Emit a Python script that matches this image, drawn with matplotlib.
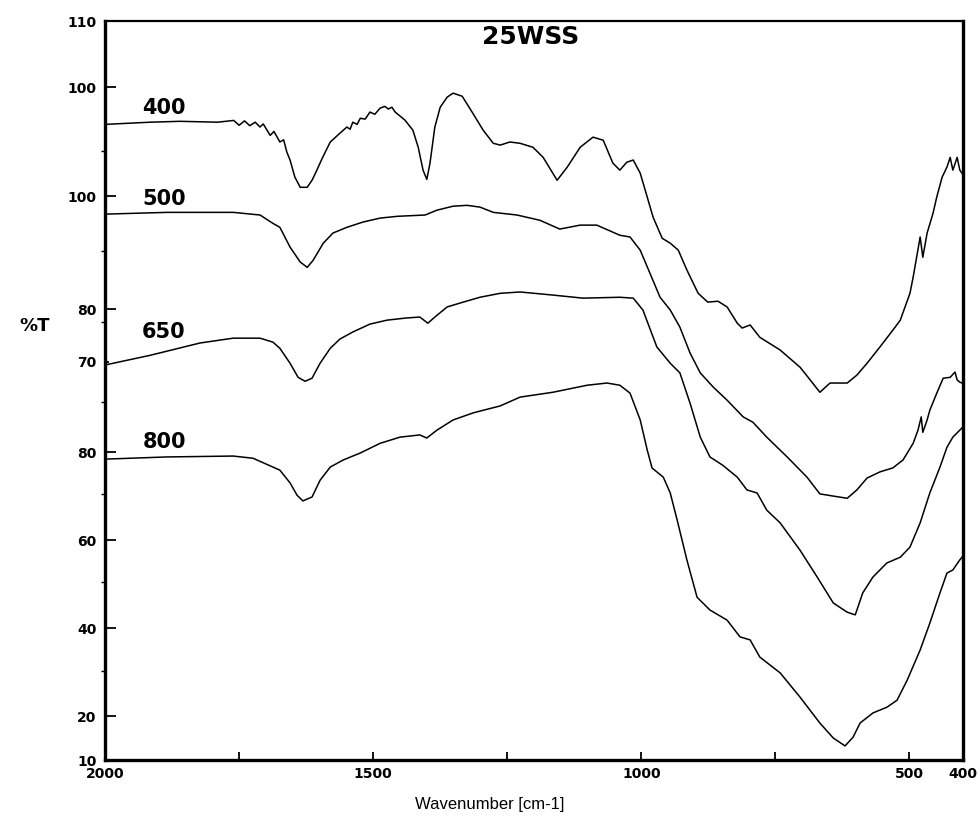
import numpy as np
import matplotlib
matplotlib.use("Agg")
import matplotlib.pyplot as plt

# FTIR spectra of 25WSS calcined at different temperatures (stacked, offset)
wn_400 = [2000, 1916, 1860, 1790, 1760, 1750, 1740, 1730, 1720, 1711, 1705, 1692, 1685,
          1674, 1667, 1661, 1655, 1646, 1636, 1623, 1614, 1605, 1595, 1580, 1562, 1549,
          1543, 1538, 1530, 1524, 1515, 1506, 1497, 1487, 1478, 1472, 1465, 1459, 1441,
          1426, 1416, 1407, 1400, 1394, 1385, 1375, 1362, 1351, 1334, 1314, 1295, 1276,
          1263, 1245, 1226, 1202, 1183, 1157, 1138, 1114, 1090, 1071, 1053, 1040, 1027,
          1015, 1002, 989, 978, 961, 946, 931, 915, 894, 876, 857, 840, 821, 812, 797, 779,
          741, 704, 685, 667, 648, 616, 598, 579, 555, 531, 517, 499, 493, 480, 475, 467,
          456, 449, 439, 430, 424, 419, 411, 406, 402]
t_400 = [154.5, 155.0, 155.2, 155.0, 155.4, 154.3, 155.3, 154.2, 155.0, 153.9, 154.6, 152.0,
         152.9, 150.5, 151.0, 148.2, 146.4, 142.5, 140.2, 140.2, 141.8, 144.1, 146.8, 150.5,
         152.5, 153.9, 153.4, 155.0, 154.5, 155.9, 155.7, 157.3, 156.8, 158.2, 158.6, 158.0,
         158.4, 157.3, 155.5, 153.2, 149.3, 144.1, 142.0, 145.7, 153.9, 158.4, 160.7, 161.6,
         160.9, 157.0, 153.2, 150.2, 149.8, 150.5, 150.2, 149.3, 147.0, 141.8, 144.8, 149.3,
         151.6, 150.9, 145.7, 144.1, 145.9, 146.4, 143.4, 138.0, 133.4, 128.6, 127.5, 125.9,
         121.4, 116.1, 114.1, 114.3, 113.0, 109.3, 108.2, 108.9, 106.1, 103.2, 99.3, 96.4,
         93.6, 95.7, 95.7, 97.5, 100.2, 103.9, 107.7, 110.0, 116.1, 119.8, 128.9, 124.3,
         129.8, 134.3, 138.0, 142.5, 144.8, 147.0, 144.1, 147.0, 144.1, 143.4]

wn_500 = [2000, 1884, 1761, 1711, 1687, 1674, 1655, 1636, 1623, 1612, 1593, 1575, 1549,
          1519, 1487, 1455, 1403, 1381, 1351, 1325, 1301, 1276, 1232, 1189, 1152, 1114,
          1083, 1040, 1021, 1002, 984, 965, 946, 928, 909, 890, 866, 840, 810, 792, 766,
          728, 691, 667, 642, 616, 598, 579, 555, 531, 512, 493, 484, 478, 475, 467, 462,
          449, 437, 424, 415, 411, 406, 402]
t_500 = [134.1, 134.5, 134.5, 133.9, 132.0, 131.1, 126.6, 123.2, 122.0, 123.6, 127.5, 129.8,
         131.1, 132.3, 133.2, 133.6, 133.9, 135.0, 135.9, 136.1, 135.7, 134.5, 133.9, 132.7,
         130.7, 131.6, 131.6, 129.3, 128.9, 125.9, 120.7, 115.2, 112.3, 108.4, 102.5, 98.0,
         94.8, 91.8, 88.0, 86.8, 83.4, 78.9, 74.3, 70.5, 70.0, 69.5, 71.4, 74.1, 75.5, 76.4,
         78.2, 82.0, 85.0, 88.0, 84.5, 87.3, 89.5, 93.4, 96.8, 97.0, 98.2, 96.4, 95.9, 95.7]

wn_650 = [2000, 1916, 1823, 1761, 1711, 1687, 1674, 1655, 1640, 1627, 1614, 1599, 1580,
          1562, 1538, 1506, 1474, 1437, 1413, 1398, 1385, 1362, 1332, 1301, 1263, 1226,
          1165, 1109, 1040, 1015, 997, 971, 946, 928, 909, 890, 872, 848, 821, 803, 784,
          766, 741, 704, 672, 642, 616, 601, 587, 568, 542, 517, 499, 480, 462, 443, 430,
          419, 406, 402]
t_650 = [99.8, 102.0, 104.8, 105.9, 105.9, 105.0, 103.6, 100.2, 97.0, 96.1, 96.8, 100.2,
         103.6, 105.7, 107.3, 109.1, 110.0, 110.5, 110.7, 109.3, 110.7, 113.0, 114.1, 115.2,
         116.1, 116.4, 115.7, 115.0, 115.2, 115.0, 112.3, 103.9, 100.2, 98.0, 91.1, 83.4,
         78.9, 77.0, 74.3, 71.4, 70.7, 66.8, 63.9, 57.7, 51.6, 45.7, 43.6, 43.0, 48.0, 51.6,
         54.8, 56.1, 58.4, 63.9, 70.7, 76.6, 81.1, 83.4, 85.0, 85.5]

wn_800 = [2000, 1884, 1761, 1724, 1687, 1674, 1655, 1642, 1631, 1614, 1599, 1580, 1556,
          1524, 1487, 1450, 1413, 1400, 1381, 1351, 1314, 1263, 1226, 1165, 1101, 1064,
          1040, 1021, 1002, 989, 980, 959, 946, 933, 915, 896, 872, 840, 816, 797, 779, 741,
          704, 667, 642, 620, 605, 592, 568, 542, 523, 504, 480, 462, 443, 430, 419, 406, 402]
t_800 = [78.4, 78.9, 79.1, 78.6, 76.6, 75.9, 73.0, 70.2, 68.9, 69.8, 73.6, 76.6, 78.2, 79.8,
         82.0, 83.4, 83.9, 83.2, 85.0, 87.3, 88.9, 90.5, 92.5, 93.6, 95.2, 95.7, 95.2, 93.4,
         87.3, 80.5, 76.4, 74.3, 70.7, 64.5, 55.5, 47.0, 44.1, 41.8, 38.0, 37.3, 33.4, 29.8,
         24.3, 18.4, 15.0, 13.2, 15.2, 18.4, 20.7, 22.0, 23.6, 28.2, 35.0, 41.1, 48.0, 52.5,
         53.2, 55.5, 56.1]

series = [("400", wn_400, t_400, 158.2),
          ("500", wn_500, t_500, 137.5),
          ("650", wn_650, t_650, 107.3),
          ("800", wn_800, t_800, 82.3)]

ytick_pos = [10, 20, 40, 60, 80, 100.5, 112.5, 138.2, 163, 178]
ytick_lab = ["10", "20", "40", "60", "80", "70", "80", "100", "100", "110"]
yminor_pos = [30.2, 50.5, 70.5, 91.4, 109.5, 125.7, 148.4]
xtick_pos = [2000, 1750, 1500, 1250, 1000, 750, 500, 400]
xtick_lab = ["2000", "", "1500", "", "1000", "", "500", "400"]

fig = plt.figure(figsize=(9.79, 8.18), dpi=100)
ax = fig.add_axes([0.1073, 0.0709, 0.8764, 0.9034])

for name, wn, t, ly in series:
    ax.plot(wn, t, color="black", lw=1.1)
    ax.text(1890, ly, name, fontsize=15, fontweight="bold", ha="center", va="center")

ax.text(1207, 174.3, "25WSS", fontsize=18, fontweight="bold", ha="center", va="center")

ax.set_xlim(2000, 400)
ax.set_ylim(10, 178)
ax.set_xticks(xtick_pos, xtick_lab)
ax.set_yticks(ytick_pos, ytick_lab)
ax.set_yticks(yminor_pos, minor=True)
ax.tick_params(axis="both", direction="in", labelsize=10, width=1.3)
ax.tick_params(axis="y", which="major", length=8, pad=6)
ax.tick_params(axis="y", which="minor", length=3, width=1.0)
ax.tick_params(axis="x", length=6, pad=5)
# the "70" tick is drawn short
ax.yaxis.get_major_ticks()[5].tick1line.set_markersize(3)
for lab in ax.get_xticklabels() + ax.get_yticklabels():
    lab.set_fontweight("bold")

for side in ["left", "bottom", "right"]:
    ax.spines[side].set_linewidth(2.4)
ax.spines["top"].set_linewidth(1.6)

fig.text(35 / 979, 1 - 326 / 818, "%T", fontsize=13, fontweight="bold",
         ha="center", va="center")
fig.text(490 / 979, 1 - 804 / 818, "Wavenumber [cm-1]", fontsize=12,
         family="Liberation Sans", ha="center", va="center")

fig.savefig("out.png", dpi=100)
